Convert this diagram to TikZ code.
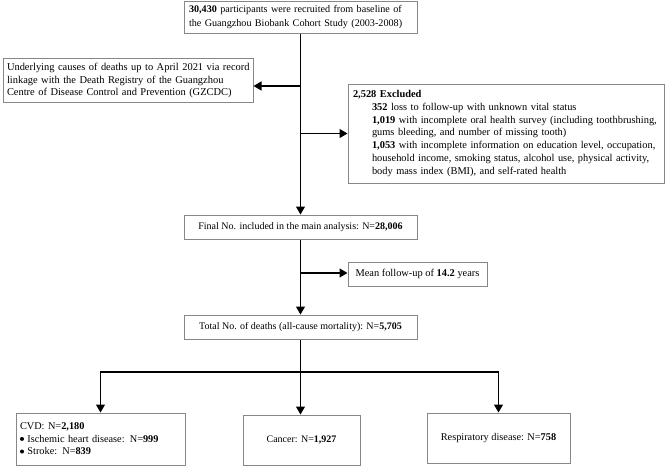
\documentclass[tikz,border=0pt]{standalone}
\usepackage{fontspec}
\setmainfont{Liberation Serif}
\usetikzlibrary{arrows.meta}
\definecolor{boxgray}{RGB}{135,135,135}
\newcommand{\blt}{\raisebox{0.3ex}{\tikz\fill (0,0) circle (2pt);}}
\newcommand{\oneline}[1]{\mbox{#1}}
\hyphenpenalty=10000
\begin{document}
\begin{tikzpicture}[x=1pt,y=-1pt,
  box/.style={draw=boxgray, line width=1pt, rectangle, inner ysep=0pt,
    font=\fontsize{10}{12.7}\selectfont},
  lbox/.style={box, align=left, anchor=center},
  cbox/.style={box, align=center, anchor=center},
  conn/.style={line width=1.2pt, draw=black},
  arr/.style={conn, -{Triangle[width=9pt,length=8pt]}}]
\useasboundingbox (0,0) rectangle (666,466);

\node[lbox, inner xsep=5pt, text width=223pt, minimum height=32pt,
  font=\fontsize{10.15}{13.5}\selectfont] (top) at (300.5,17)
  {\oneline{\textbf{30,430} participants were recruited from baseline of}\\
   \oneline{the Guangzhou Biobank Cohort Study (2003-2008)}};

\node[lbox, inner xsep=4pt, text width=242pt, minimum height=44pt,
  font=\fontsize{10.45}{12.8}\selectfont] (left) at (128,80.5)
  {\oneline{Underlying causes of deaths up to April 2021 via record}\\
   \oneline{linkage with the Death Registry of the Guangzhou}\\
   \oneline{Centre of Disease Control and Prevention (GZCDC)}};

\node[lbox, inner xsep=5pt, text width=306pt, minimum height=99pt,
  font=\fontsize{10.4}{12.7}\selectfont] (excl) at (506,133.5)
  {\oneline{\textbf{2,528 Excluded}}\\
   \oneline{\hspace*{19pt}\textbf{352} loss to follow-up with unknown vital status}\\
   \oneline{\hspace*{19pt}\textbf{1,019} with incomplete oral health survey (including toothbrushing,}\\
   \oneline{\hspace*{19pt}gums bleeding, and number of missing tooth)}\\
   \oneline{\hspace*{19pt}\textbf{1,053} with incomplete information on education level, occupation,}\\
   \oneline{\hspace*{19pt}household income, smoking status, alcohol use, physical activity,}\\
   \oneline{\hspace*{19pt}body mass index (BMI), and self-rated health}};

\node[cbox, minimum width=233pt, minimum height=24pt] (final) at (300.5,227)
  {Final No. included in the main analysis: N=\textbf{28,006}};

\node[cbox, minimum width=139pt, minimum height=24pt,
  font=\fontsize{10.4}{12.7}\selectfont] (mean) at (417.5,274)
  {Mean follow-up of \textbf{14.2} years};

\node[cbox, minimum width=233pt, minimum height=24pt] (total) at (300.5,327)
  {Total No. of deaths (all-cause mortality): N=\textbf{5,705}};

\node[lbox, inner xsep=4pt, text width=161pt, minimum height=52pt,
  font=\fontsize{10.3}{12.6}\selectfont] (cvd) at (100.5,439)
  {CVD: N=\textbf{2,180}\\
   \oneline{\blt{} Ischemic heart disease: N=\textbf{999}}\\
   \oneline{\blt{} Stroke: N=\textbf{839}}};

\node[cbox, minimum width=117pt, minimum height=50pt] (cancer) at (301.5,440)
  {Cancer: N=\textbf{1,927}};

\node[cbox, minimum width=143pt, minimum height=50pt,
  font=\fontsize{10.3}{12.7}\selectfont] (resp) at (498.5,438)
  {Respiratory disease: N=\textbf{758}};

\coordinate (j1) at (300.5,86);
\coordinate (j2) at (300.5,133.5);
\coordinate (j3) at (300.5,273);
\coordinate (b) at (300.5,372);

\draw[arr] (top.south) -- (final.north);
\draw[arr] (j1) -- (j1 -| left.east);
\draw[arr] (j2) -- (j2 -| excl.west);
\draw[arr] (final.south) -- (total.north);
\draw[arr] (j3) -- (j3 -| mean.west);
\draw[conn] (total.south) -- (b);
\draw[arr] (b) -- (b |- cancer.north);
\draw[arr] (b) -| (cvd.north);
\draw[arr] (b) -| (resp.north);
\end{tikzpicture}
\end{document}
